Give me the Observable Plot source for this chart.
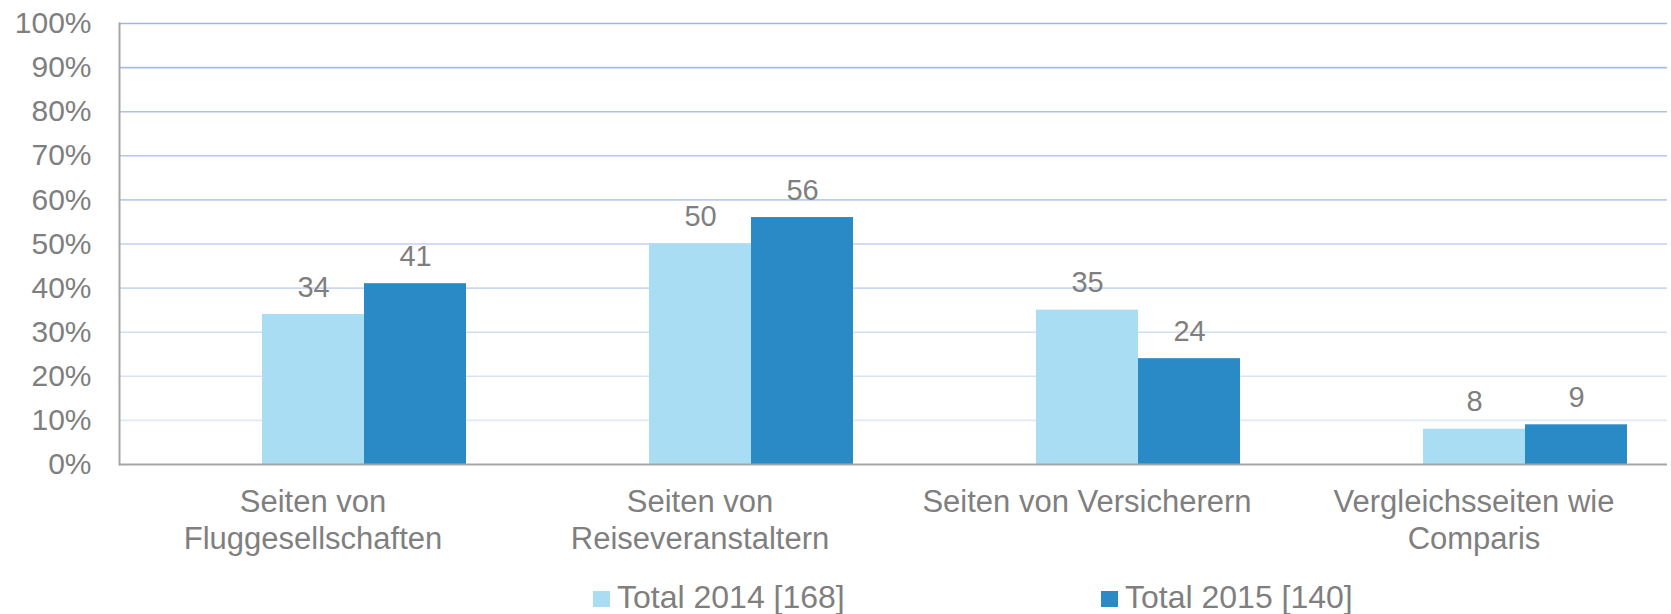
<!DOCTYPE html>
<html>
<head>
<meta charset="utf-8">
<script src="https://cdn.jsdelivr.net/npm/d3@7"></script>
<script src="https://cdn.jsdelivr.net/npm/@observablehq/plot@0.6"></script>
<style>
  html, body { margin: 0; padding: 0; background: #fff; }
  #chart { width: 1671px; }
  #legend { position: relative; width: 1671px; height: 42px; font-family: "Liberation Sans", Arial, sans-serif; font-size: 32px; color: #7f7f7f; }
  .sw { position: absolute; width: 17px; height: 16px; top: 19px; }
  .lt { position: absolute; top: 9px; line-height: 32px; white-space: nowrap; }
</style>
</head>
<body>
<div id="chart"></div>
<div id="legend"></div>
<script>
// ---- data ----
const categories = [
  "Seiten von\nFluggesellschaften",
  "Seiten von\nReiseveranstaltern",
  "Seiten von Versicherern",
  "Vergleichsseiten wie\nComparis"
];
const seriesKeys = ["", "2014", "2015"];          // first series is empty in the original
const seriesLabels = ["", "Total 2014 [168]", "Total 2015 [140]"];
const seriesColors = ["#ffffff", "#a9ddf3", "#2a8ac6"];
const values2014 = [34, 50, 35, 8];
const values2015 = [41, 56, 24, 9];
const yTicks = [0, 10, 20, 30, 40, 50, 60, 70, 80, 90, 100];

const data = [];
categories.forEach((c, i) => {
  data.push({category: c, series: "2014", value: values2014[i]});
  data.push({category: c, series: "2015", value: values2015[i]});
});

const gridColor = d3.interpolateRgb("#dfe8f8", "#9fb7e6");
const textColor = "#7f7f7f";
const axisColor = "#a6a6a6";

const chart = Plot.plot({
  width: 1671,
  height: 572,
  marginLeft: 118,
  marginRight: 3,
  marginTop: 23,
  marginBottom: 108,
  style: {fontFamily: "'Liberation Sans', Arial, sans-serif", color: textColor, background: "#fff", overflow: "visible"},
  fx: {domain: categories, paddingInner: 0, paddingOuter: 0, label: null},
  x: {domain: seriesKeys, paddingInner: 0, paddingOuter: 0.381, axis: null},
  y: {domain: [0, 100], axis: null},
  color: {domain: seriesKeys, range: seriesColors},
  marks: [
    Plot.ruleY(yTicks.filter(d => d > 0), {stroke: d => gridColor((d - 10) / 90), strokeWidth: 1.6}),
    Plot.barY(data, {fx: "category", x: "series", y: "value", fill: "series"}),
    Plot.ruleY([0], {stroke: axisColor, strokeWidth: 2}),
    Plot.frame({anchor: "left", facetAnchor: "left", stroke: axisColor, strokeWidth: 2}),
    Plot.text(data, {fx: "category", x: "series", y: "value", text: d => String(d.value),
      lineAnchor: "bottom", dy: -18, fontSize: 29, fill: textColor}),
    Plot.axisY({ticks: yTicks, tickFormat: d => d + "%", tickSize: 0, tickPadding: 28,
      fontSize: 30, label: null, fill: textColor}),
    Plot.axisFx({anchor: "bottom", tickSize: 0, tickPadding: 22, fontSize: 31, lineHeight: 1.18, label: null, fill: textColor})
  ]
});
document.getElementById("chart").appendChild(chart);

// ---- legend (HTML, below the SVG) ----
const legend = document.getElementById("legend");
const swatchLeft = [85, 593, 1101];
seriesKeys.forEach((k, i) => {
  if (!seriesLabels[i]) return;
  const sw = document.createElement("div");
  sw.className = "sw";
  sw.style.left = swatchLeft[i] + "px";
  sw.style.background = seriesColors[i];
  legend.appendChild(sw);
  const t = document.createElement("div");
  t.className = "lt";
  t.style.left = (swatchLeft[i] + 24) + "px";
  t.textContent = seriesLabels[i];
  legend.appendChild(t);
});
</script>
</body>
</html>
